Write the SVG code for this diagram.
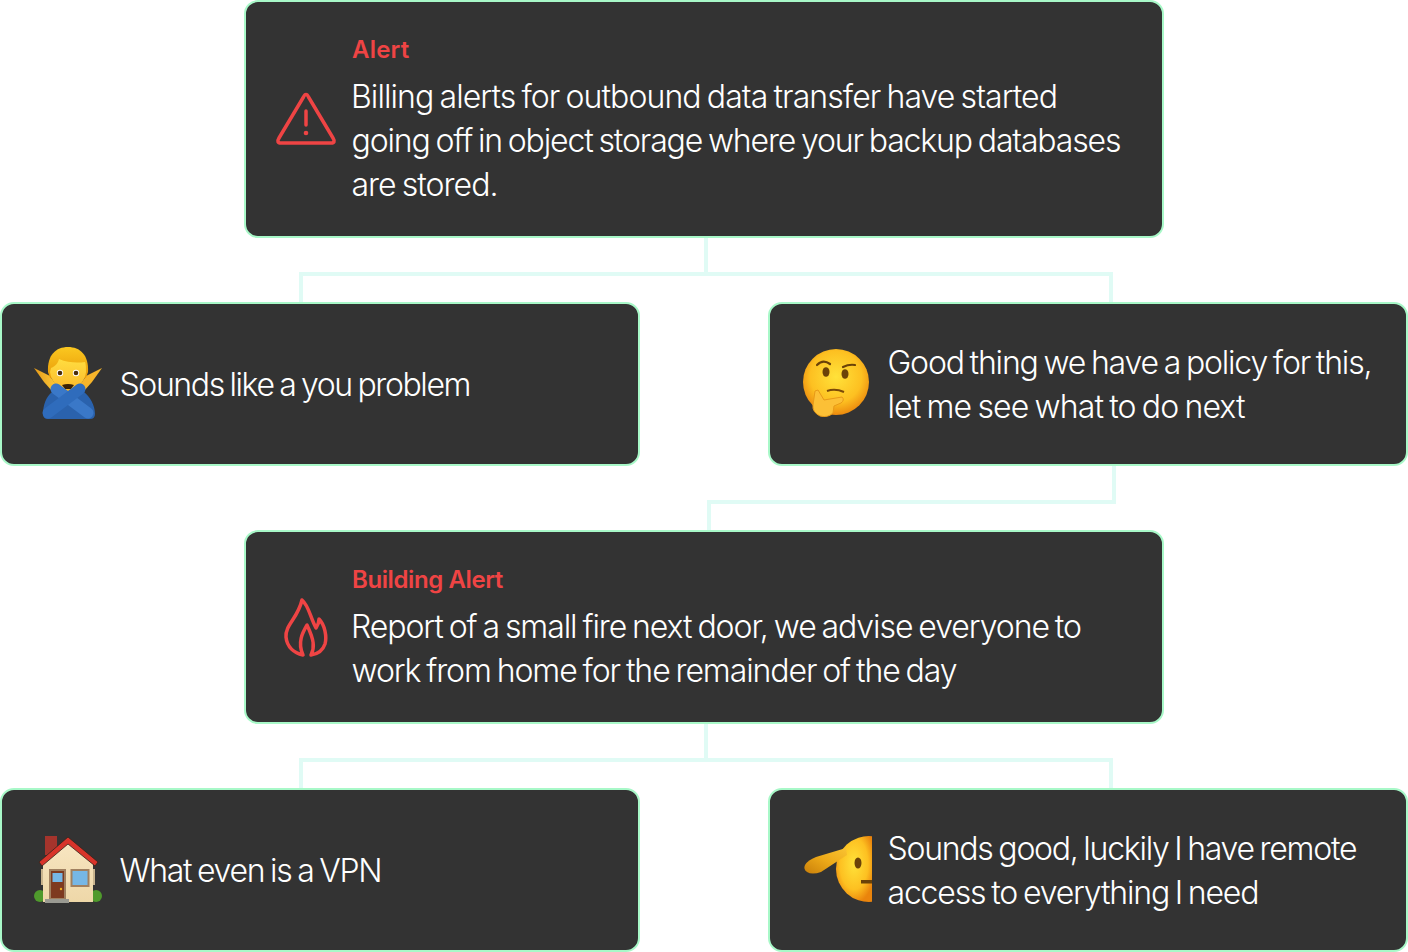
<svg xmlns="http://www.w3.org/2000/svg" width="1408" height="952" viewBox="0 0 1408 952">
<style>
.card{fill:#333333;stroke:#a8f8c8;stroke-width:2}
.t{font-family:"Inter","Liberation Sans",sans-serif;font-weight:300;font-size:32px;fill:#fff;word-spacing:-2px}
.h{font-family:"Inter","Liberation Sans",sans-serif;font-weight:600;font-size:24px;fill:#ef4444;letter-spacing:-0.3px}
.i{fill:none;stroke:#ef4444;stroke-width:3.5;stroke-linecap:round;stroke-linejoin:round}
.c{fill:none;stroke:#e0fbf5;stroke-width:4}
.s1{fill:none;stroke-linecap:round}
</style>
<defs>
<radialGradient id="face" cx="50%" cy="42%" r="60%"><stop offset="0" stop-color="#ffe23a"/><stop offset=".65" stop-color="#fdc021"/><stop offset="1" stop-color="#ea840c"/></radialGradient>
<linearGradient id="skin" x1="0" y1="0" x2="0" y2="1"><stop offset="0" stop-color="#ffdd40"/><stop offset="1" stop-color="#fbb82a"/></linearGradient>
<linearGradient id="hair" x1="0" y1="0" x2="0" y2="1"><stop offset="0" stop-color="#fbc820"/><stop offset="1" stop-color="#e89a08"/></linearGradient>
<linearGradient id="hand" x1="0" y1="0" x2="1" y2="0"><stop offset="0" stop-color="#e69a18"/><stop offset="1" stop-color="#fbc83a"/></linearGradient>
<linearGradient id="arm" x1="0" y1="1" x2="1" y2="0"><stop offset="0" stop-color="#c97f0a"/><stop offset=".5" stop-color="#eda918"/><stop offset="1" stop-color="#f9c332"/></linearGradient>
<linearGradient id="wall" x1="0" y1="0" x2="0" y2="1"><stop offset="0" stop-color="#f8e6c2"/><stop offset="1" stop-color="#eed7a8"/></linearGradient>
</defs>
<g id="connectors">
<path class="c" d="M706 237V274M301 303V274H1111V303"/>
<path class="c" d="M1114 465V502H709V531"/>
<path class="c" d="M706 723V760M301 789V760H1111V789"/>
</g>
<g id="node-alert">
<rect class="card" x="245" y="1" width="918" height="236" rx="13"/>
<path class="i" d="M303.500 97Q306 92 308.500 97L333 138Q336 143 331 143H281Q276 143 279 138Z"/>
<path class="i" d="M306 111V125"/><circle cx="306" cy="133" r="2.300" fill="#ef4444"/>
<text class="h" x="352" y="58" textLength="57">Alert</text>
<text class="t" x="351" y="108" textLength="707">Billing alerts for outbound data transfer have started</text>
<text class="t" x="351.500" y="152" textLength="770">going off in object storage where your backup databases</text>
<text class="t" x="351.500" y="196" textLength="147">are stored.</text>
</g>
<g id="node-you-problem">
<rect class="card" x="1" y="303" width="638" height="162" rx="13"/>
<path d="M34 368L50 376L56 385L52 391L44 382Z" fill="url(#hand)"/>
<path d="M102 368L86 376L80 385L84 391L92 382Z" fill="#f7b52a"/>
<path d="M48 372C47 355 56 347 68 347C80 347 89 355 88 372L86 378H50Z" fill="url(#hair)"/>
<path d="M51 368C56 366 58 363 59 359C68 363 78 363 85 362C86 365 86 367 86 372C85 382 76 391 68 391C60 391 51 382 50 372Z" fill="url(#skin)"/>
<ellipse cx="60" cy="373" rx="3.200" ry="3.300" fill="#fff"/><ellipse cx="76" cy="373" rx="3.200" ry="3.300" fill="#fff"/>
<circle cx="60" cy="373" r="2.300" fill="#4a2c0a"/><circle cx="76" cy="373" r="2.300" fill="#4a2c0a"/>
<path d="M62 385Q68 383 74 385L71 389H65Z" fill="#3a2206"/>
<path d="M43 414C43 405 46 397 52 392L68 400L84 392C90 397 95 405 95 414Q95 419 90 419H48Q43 419 43 414Z" fill="#2a62ad"/>
<path class="s1" d="M56 389L88 413" stroke="#3a78c8" stroke-width="11"/>
<path class="s1" d="M80 389L48 413" stroke="#2f6cbc" stroke-width="11"/>
<text class="t" x="119.500" y="396" textLength="352">Sounds like a you problem</text>
</g>
<g id="node-policy">
<rect class="card" x="769" y="303" width="638" height="162" rx="13"/>
<circle cx="836" cy="382" r="33" fill="url(#face)"/>
<path d="M817 365Q823 359 830 364M843 367Q849 364 855 365" fill="none" stroke="#6b4208" stroke-width="2.200" stroke-linecap="round"/>
<ellipse cx="826" cy="372" rx="3.500" ry="4.800" fill="#6b4208"/><ellipse cx="845" cy="374" rx="3.500" ry="4.800" fill="#6b4208"/>
<path d="M827 391Q835 388 844 392" fill="none" stroke="#7a4a08" stroke-width="2"/>
<path d="M815 391L818 390L824 400L842 397Q845 400 841 403L834 406L833 413Q828 418 820 416Q812 412 813 405Z" fill="#fcc036" stroke="#e89a18" stroke-width="1"/>
<text class="t" x="887.500" y="374" textLength="485">Good thing we have a policy for this,</text>
<text class="t" x="887.500" y="418" textLength="358">let me see what to do next</text>
</g>
<g id="node-building-alert">
<rect class="card" x="245" y="531" width="918" height="192" rx="13"/>
<path class="i" d="M302 600C309 606 310 617 316 628C318 625 319 622 319 619C325 625 327 637 325 644C323 650 318 654 311 655C315 647 314 640 307 625C303 632 297 642 303 655C294 653 287 647 286 637C285 625 298 618 302 600Z"/>
<text class="h" x="352" y="588" textLength="151">Building Alert</text>
<text class="t" x="351" y="638" textLength="731">Report of a small fire next door, we advise everyone to</text>
<text class="t" x="351.500" y="682" textLength="606">work from home for the remainder of the day</text>
</g>
<g id="node-vpn">
<rect class="card" x="1" y="789" width="638" height="162" rx="13"/>
<circle cx="40" cy="896" r="6" fill="#4f9a2c"/><circle cx="96" cy="896" r="6" fill="#4f9a2c"/>
<rect x="45" y="836" width="12" height="19" fill="#a5342c"/>
<rect x="41" y="869" width="54" height="16" fill="#c9b48e"/>
<path d="M43 864L68 841L93 864V902H43Z" fill="url(#wall)"/>
<path d="M39 862L68 837L98 862L95 866L68 844L42 866Z" fill="#d8342a" stroke="#33231a" stroke-width=".8"/>
<rect x="50" y="870" width="15" height="29" fill="#7e3a20" stroke="#a08060" stroke-width="2"/>
<rect x="52.500" y="873" width="10" height="9" fill="#76b7e6"/>
<circle cx="61" cy="889" r="1.200" fill="#f0b020"/>
<rect x="71.500" y="870" width="17" height="16" fill="#76b7e6" stroke="#a08060" stroke-width="2"/>
<rect x="45" y="899" width="24" height="4" fill="#9a9a92"/>
<text class="t" x="119.500" y="882" textLength="263">What even is a VPN</text>
</g>
<g id="node-salute">
<rect class="card" x="769" y="789" width="638" height="162" rx="13"/>
<path d="M872 836.140A33 33 0 1 0 872 901.860Z" fill="url(#face)"/>
<path d="M846 848L847 855L821 872Q812 875 807 872Q803 869 805 865Q808 860 816 857Z" fill="url(#arm)"/>
<ellipse cx="858" cy="863" rx="3.500" ry="5.500" fill="#6b4208"/>
<rect x="861" y="880" width="11" height="3.500" fill="#6b4208"/>
<text class="t" x="887.500" y="860" textLength="470">Sounds good, luckily I have remote</text>
<text class="t" x="887.500" y="904" textLength="372">access to everything I need</text>
</g>
</svg>
